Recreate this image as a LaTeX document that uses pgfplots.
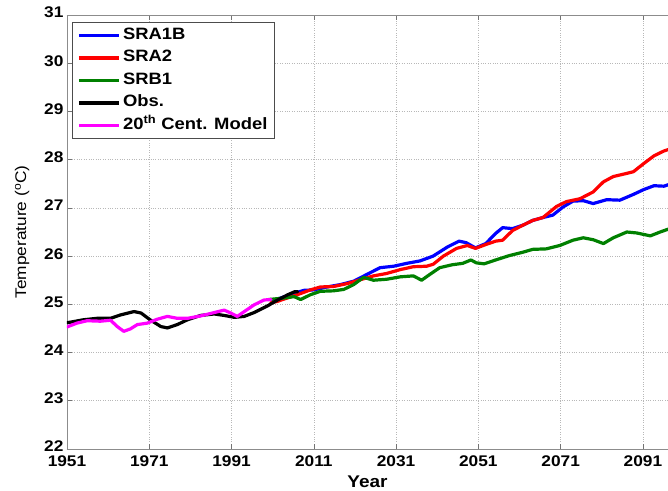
\documentclass[border=0pt]{standalone}
\usepackage{pgfplots}
\pgfplotsset{compat=1.18}
\usepackage{fontspec}
\setmainfont{Liberation Sans}
\newfontfamily\wide[FakeStretch=1.12]{Liberation Sans}
\definecolor{mgreen}{RGB}{0,128,0}
\definecolor{mmag}{RGB}{255,0,255}
\begin{document}
\begin{tikzpicture}
\useasboundingbox (-67bp,-42bp) rectangle (601bp,449bp);
\begin{axis}[
  at={(0,0)}, anchor=south west,
  scale only axis, width=601bp, height=434bp,
  xmin=1951, xmax=2097.1, ymin=22, ymax=31,
  xtick={1951,1971,1991,2011,2031,2051,2071,2091},
  ytick={22,23,24,25,26,27,28,29,30,31},
  axis x line*=box, axis y line*=left,
  axis line style={black!45, line width=0.9bp},
  tick style={black!55, line width=0.6bp},
  major tick length=5bp,
  tick align=inside,
  xtick pos=both, ytick pos=left,
  xticklabel style={yshift=-6bp, inner ysep=1bp, /pgf/number format/1000 sep={}},
  yticklabel style={yshift=2.5bp, inner ysep=0.5bp, text depth=0pt},
  /pgf/number format/assume math mode=true,
  tick label style={font=\wide\bfseries\fontsize{15.5}{15.5}\selectfont, black},
  grid=major,
  major grid style={dotted, black!28, line width=0.6bp},
  xlabel={\bfseries Year},
  xlabel style={font=\wide\fontsize{17}{17}\selectfont, yshift=-4bp},
  ylabel={Temperature (\textsuperscript{o}C)},
  ylabel style={font=\wide\fontsize{15.5}{15.5}\selectfont, yshift=8bp},
  every axis plot/.append style={line width=3.2bp, line join=round, line cap=round},
  legend style={at={(rel axis cs:0,1)}, anchor=north west, xshift=5bp, yshift=-7bp,
    draw=black!70, line width=0.8bp, fill=white,
    font=\wide\bfseries\fontsize{16.5}{16.5}\selectfont,
    nodes={text height=11.5bp, text depth=3.5bp, inner sep=2.5bp},
    row sep=2.5bp, inner xsep=5bp, inner ysep=3bp},
  legend cell align=left,
  legend image code/.code={\draw[#1, line width=3.2bp, line cap=butt] (0bp,0bp) -- (40bp,0bp);},
]
\addplot[blue] coordinates {
(2001,25.08) (2002.9,25.13) (2006.2,25.23) (2008.6,25.29) (2011,25.30) (2014.2,25.36)
(2017.5,25.41) (2020.7,25.48) (2023.9,25.62) (2027.1,25.76) (2030.4,25.79) (2033.6,25.85)
(2036.8,25.90) (2040,26.00) (2043.5,26.19) (2046.3,26.31) (2048,26.28) (2050.3,26.17)
(2052.8,26.26) (2055.2,26.47) (2056.9,26.59) (2059.3,26.57) (2061.8,26.64) (2064.2,26.74)
(2066.7,26.80) (2069.1,26.85) (2071.6,27.02) (2074,27.14) (2076.5,27.15) (2078.9,27.09)
(2082.2,27.17) (2085.4,27.16) (2088.7,27.28) (2091.2,27.38) (2093.7,27.46) (2096.1,27.45)
(2097.5,27.49)};
\addlegendentry{SRA1B}
\addplot[red] coordinates {
(2000.5,25.03) (2002.1,25.06) (2004.5,25.13) (2007,25.20) (2010.2,25.30) (2012.6,25.36)
(2015.8,25.37) (2019.1,25.43) (2022.3,25.51) (2025.5,25.59) (2028.7,25.64) (2032,25.72)
(2035.2,25.78) (2038.4,25.79) (2040,25.83) (2042.5,26.00) (2045.7,26.16) (2048.3,26.22)
(2050.3,26.16) (2052.8,26.24) (2055.2,26.31) (2056.9,26.33) (2059.3,26.53) (2061.8,26.64)
(2064.2,26.74) (2066.7,26.80) (2070,27.03) (2072.4,27.13) (2075.7,27.19) (2078.9,27.33)
(2081.4,27.54) (2083.8,27.65) (2086.3,27.70) (2088.7,27.75) (2091.2,27.92) (2093.7,28.08)
(2096.1,28.18) (2097.5,28.22)};
\addlegendentry{SRA2}
\addplot[mgreen] coordinates {
(2000,25.10) (2003.7,25.13) (2006.2,25.16) (2007.8,25.10) (2010.2,25.20) (2012.6,25.27)
(2015.8,25.28) (2018.3,25.31) (2020.7,25.41) (2023.1,25.56) (2025.5,25.50) (2028.7,25.52)
(2032,25.57) (2035.2,25.59) (2037.2,25.50) (2039.2,25.62) (2041.6,25.76) (2044.6,25.82)
(2047.2,25.85) (2049.2,25.92) (2050.5,25.86) (2052.4,25.84) (2055.2,25.92) (2058.5,26.01)
(2061.8,26.08) (2064.2,26.14) (2067.5,26.15) (2070.8,26.22) (2074,26.33) (2076.5,26.38)
(2078.9,26.34) (2081.4,26.26) (2083.8,26.38) (2087.1,26.50) (2089.5,26.48) (2092.8,26.42)
(2095.2,26.50) (2097.5,26.57)};
\addlegendentry{SRB1}
\addplot[black] coordinates {
(1951,24.62) (1951.8,24.63) (1955,24.68) (1958.3,24.71) (1961.6,24.71) (1964,24.78)
(1967.3,24.85) (1969,24.82) (1971.2,24.68) (1973.8,24.54) (1975.4,24.51) (1977.8,24.58)
(1980.3,24.68) (1983.5,24.77) (1986.8,24.80) (1989.2,24.77) (1991.7,24.73) (1994.1,24.75)
(1996.5,24.83) (1999.8,24.97) (2002.2,25.09) (2004.7,25.20) (2006.3,25.26) (2007.1,25.26)};
\addlegendentry{Obs.}
\addplot[mmag] coordinates {
(1951,24.53) (1953.4,24.61) (1955.9,24.66) (1959.1,24.65) (1961.6,24.67) (1963.2,24.54)
(1964.8,24.44) (1966.4,24.49) (1968.1,24.58) (1970.5,24.61) (1972.9,24.69) (1975.4,24.75)
(1977.8,24.71) (1980.3,24.71) (1983.5,24.76) (1986.8,24.83) (1989.2,24.88) (1990.8,24.82)
(1992.4,24.75) (1994.1,24.85) (1996.5,24.99) (1998.9,25.09) (2000.6,25.10)};
\addlegendentry{20\textsuperscript{th} Cent. Model}
\end{axis}
\end{tikzpicture}
\end{document}
